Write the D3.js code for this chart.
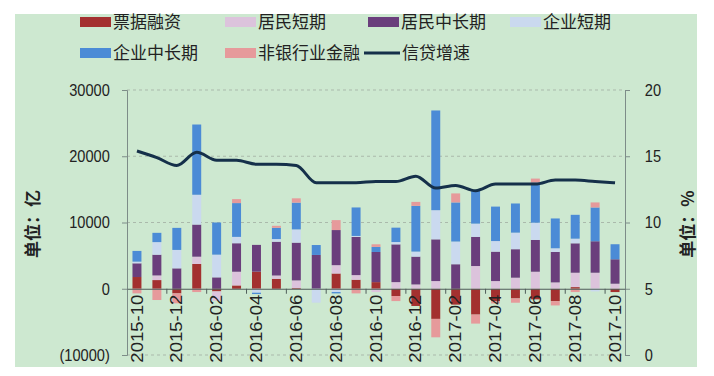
<!DOCTYPE html>
<html lang="zh">
<head>
  <meta charset="UTF-8">
  <title>新增贷款结构与信贷增速</title>
  <script src="https://d3js.org/d3.v7.min.js"></script>
  <style>
    body { margin: 0; background: #fff; font-family: "Liberation Sans", Arial, sans-serif; }
    svg text { fill: #222; }
  </style>
</head>
<body>
  <div id="chart"></div>
  <script>
    // months on the x axis
    const months = ["2015-10","2015-11","2015-12","2016-01","2016-02","2016-03","2016-04","2016-05","2016-06","2016-07","2016-08","2016-09","2016-10","2016-11","2016-12","2017-01","2017-02","2017-03","2017-04","2017-05","2017-06","2017-07","2017-08","2017-09","2017-10"];

    // new loans by type, 亿元
    const billFinancing  = [1770, 1310, -700, 3740, -400, 500, 2580, 1500, 100, 0, 2300, 1360, 1000, -1100, -2600, -4550, -2400, -3900, -1870, -1460, -1600, -1870, 250, 0, -500];
    const householdShort = [0, 700, 0, 1100, -1400, 2070, 0, 500, 1160, 0, 1260, 700, -500, 1000, 650, 1160, 0, 3430, 1160, 1670, 2570, 960, 2170, 2420, 760];
    const householdLong  = [2070, 3130, 3080, 4850, 1720, 4300, 4040, 5100, 5700, 5100, 5300, 5760, 4550, 5700, 4200, 6300, 3700, 4400, 4440, 4300, 4800, 4600, 4440, 4750, 3690];
    const corpShort      = [250, 1900, 2780, 4500, 3430, 960, -600, 400, 2000, -2100, -500, 150, 0, 350, 760, 4400, 3430, 2000, 1600, 2500, 2600, 550, 700, -400, 0];
    const corpLong       = [1620, 1400, 3330, 10600, 4850, 5100, -200, 1700, 4040, 1500, -200, 4300, 760, 2170, 6900, 15050, 5900, 4950, 5200, 4400, 6060, 4500, 3600, 5100, 2270];
    const nonBank        = [-700, -1700, -1500, -500, 0, 600, 0, 300, 650, 0, 1500, -700, 400, -760, 600, -2780, 1360, -1360, -350, -650, 600, -650, -500, 760, 0];

    // loan growth, %
    const creditGrowth = [15.4, 14.9, 14.3, 15.3, 14.7, 14.7, 14.4, 14.4, 14.3, 13.0, 13.0, 13.0, 13.1, 13.1, 13.5, 12.6, 12.8, 12.4, 12.9, 12.9, 12.9, 13.2, 13.2, 13.1, 13.0];

    const seriesNames = ["票据融资", "居民短期", "居民中长期", "企业短期", "企业中长期", "非银行业金融"];
    const seriesValues = [billFinancing, householdShort, householdLong, corpShort, corpLong, nonBank];
    const colors = ["#a3302f", "#dcc3dc", "#6a3e7c", "#cad9ef", "#4b8bd6", "#e69a9b"];
    const lineName = "信贷增速";

    const leftTicks = [-10000, 0, 10000, 20000, 30000];
    const rightTicks = [0, 5, 10, 15, 20];

    const width = 714, height = 376;
    const plot = { left: 127, right: 625, top: 90, bottom: 355 };
    const squash = "scale(0.86,1)";

    const svg = d3.select("#chart").append("svg")
      .attr("width", width)
      .attr("height", height);

    // green panel
    svg.append("rect")
      .attr("x", 15).attr("y", 14)
      .attr("width", 682).attr("height", 353)
      .attr("fill", "#cde8d0");

    // table for stacking
    const rows = months.map((m, i) => {
      const r = { month: m };
      seriesNames.forEach((k, j) => { r[k] = seriesValues[j][i]; });
      return r;
    });

    const stack = d3.stack()
      .keys(seriesNames)
      .offset(d3.stackOffsetDiverging)
      .order(d3.stackOrderNone);
    const stacked = stack(rows);

    const slot = d3.scaleBand().domain(months).range([plot.left, plot.right]).padding(0);
    const x = d3.scaleBand().domain(months).range([plot.left, plot.right]).paddingInner(0.55).paddingOuter(0.275);
    const yLeft = d3.scaleLinear().domain([-10000, 30000]).range([plot.bottom, plot.top]);
    const yRight = d3.scaleLinear().domain([0, 20]).range([plot.bottom, plot.top]);

    // dashed gridlines
    svg.append("g")
      .selectAll("line")
      .data(leftTicks.filter(d => d !== 0))
      .join("line")
      .attr("x1", plot.left).attr("x2", plot.right)
      .attr("y1", d => yLeft(d)).attr("y2", d => yLeft(d))
      .attr("stroke", "#aab9ab")
      .attr("stroke-dasharray", "3,3");

    // bars
    svg.append("g")
      .selectAll("g")
      .data(stacked)
      .join("g")
      .attr("fill", (d, i) => colors[i])
      .selectAll("rect")
      .data(d => d)
      .join("rect")
      .attr("x", d => x(d.data.month))
      .attr("width", x.bandwidth())
      .attr("y", d => yLeft(Math.max(d[0], d[1])))
      .attr("height", d => Math.abs(yLeft(d[0]) - yLeft(d[1])));

    // left axis
    const leftAxis = svg.append("g")
      .attr("transform", `translate(${plot.left},0)`)
      .call(d3.axisLeft(yLeft).tickValues(leftTicks).tickSize(5).tickPadding(15)
        .tickFormat(d => d < 0 ? `(${-d})` : d));
    leftAxis.selectAll("text").attr("transform", squash).attr("font-size", 17)
      .attr("font-family", "Liberation Sans, Arial, sans-serif");

    // right axis
    const rightAxis = svg.append("g")
      .attr("transform", `translate(${plot.right},0)`)
      .call(d3.axisRight(yRight).tickValues(rightTicks).tickSize(5).tickPadding(18));
    rightAxis.selectAll("text").attr("transform", squash).attr("font-size", 17)
      .attr("font-family", "Liberation Sans, Arial, sans-serif");

    [leftAxis, rightAxis].forEach(a => {
      a.select(".domain").attr("stroke", "#7d8c88");
      a.selectAll(".tick line").attr("stroke", "#7d8c88");
    });

    // x axis at zero with month labels
    const xAxis = svg.append("g")
      .attr("transform", `translate(0,${yLeft(0)})`)
      .call(d3.axisBottom(x)
        .tickValues(months.filter((m, i) => i % 2 === 0))
        .tickSize(0).tickSizeOuter(0));
    xAxis.select(".domain").attr("stroke", "#4f5d5a").attr("stroke-width", 1.2);
    xAxis.selectAll("text")
      .attr("font-size", 18.5)
      .attr("font-family", "Liberation Sans, Arial, sans-serif")
      .attr("text-anchor", "end")
      .attr("x", -6).attr("y", 0).attr("dy", "0.35em")
      .attr("transform", squash + " rotate(-90)");

    // small ticks at slot boundaries
    xAxis.append("g")
      .selectAll("line")
      .data(months.filter((m, i) => i > 0 && i % 2 === 0))
      .join("line")
      .attr("x1", d => slot(d)).attr("x2", d => slot(d))
      .attr("y1", 0).attr("y2", 5)
      .attr("stroke", "#4f5d5a");

    // credit growth line
    const line = d3.line()
      .x((d, i) => x(months[i]) + x.bandwidth() / 2)
      .y(d => yRight(d))
      .curve(d3.curveMonotoneX);

    svg.append("path")
      .datum(creditGrowth)
      .attr("fill", "none")
      .attr("stroke", "#15304a")
      .attr("stroke-width", 3)
      .attr("d", line);

    // unit labels
    svg.append("text")
      .attr("transform", `translate(33,224) rotate(-90)`)
      .attr("text-anchor", "middle")
      .attr("dy", "0.35em")
      .attr("font-size", 17)
      .attr("font-weight", "bold")
      .attr("font-family", "Noto Sans CJK SC, sans-serif")
      .text("单位：亿");

    svg.append("text")
      .attr("transform", `translate(688,224) rotate(-90)`)
      .attr("text-anchor", "middle")
      .attr("dy", "0.35em")
      .attr("font-size", 17)
      .attr("font-weight", "bold")
      .attr("font-family", "Noto Sans CJK SC, sans-serif")
      .text("单位：%");

    // legend
    const legendItems = seriesNames.map((n, i) => ({ name: n, color: colors[i], type: "rect" }))
      .concat([{ name: lineName, color: "#15304a", type: "line" }]);
    const legendPos = [[80, 22], [225, 22], [368, 22], [510, 22], [80, 53], [225, 53], [364, 53]];

    const legend = svg.append("g")
      .attr("font-family", "Noto Sans CJK SC, sans-serif")
      .attr("font-size", 17);

    legendItems.forEach((d, i) => {
      const [lx, ly] = legendPos[i];
      const g = legend.append("g").attr("transform", `translate(${lx},${ly})`);
      if (d.type === "rect") {
        g.append("rect").attr("x", 0).attr("y", -5).attr("width", 31).attr("height", 10).attr("fill", d.color);
        g.append("text").attr("x", 33).attr("dy", "0.35em").text(d.name);
      } else {
        g.append("line").attr("x1", 0).attr("x2", 36).attr("stroke", d.color).attr("stroke-width", 3);
        g.append("text").attr("x", 38).attr("dy", "0.35em").text(d.name);
      }
    });
  </script>
</body>
</html>
